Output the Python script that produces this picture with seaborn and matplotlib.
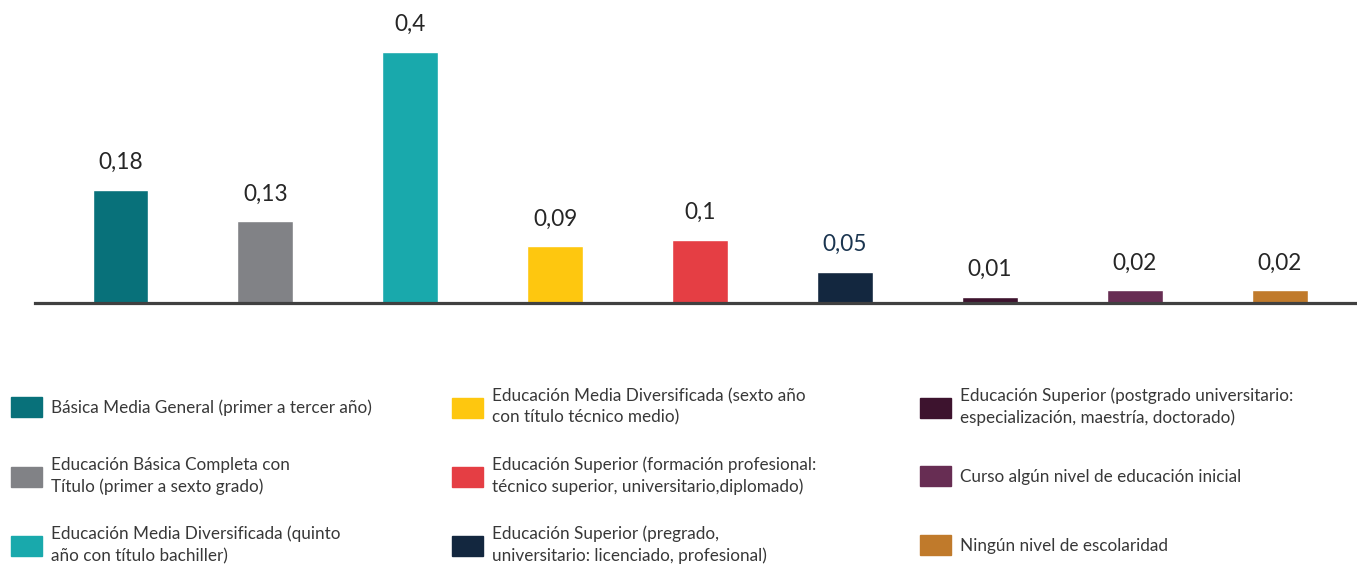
import matplotlib
matplotlib.use("Agg")
import matplotlib.pyplot as plt
import seaborn as sns
import pandas as pd

# Data
categories = [
    "Básica Media General (primer a tercer año)",
    "Educación Básica Completa con\nTítulo (primer a sexto grado)",
    "Educación Media Diversificada (quinto\naño con título bachiller)",
    "Educación Media Diversificada (sexto año\ncon título técnico medio)",
    "Educación Superior (formación profesional:\ntécnico superior, universitario,diplomado)",
    "Educación Superior (pregrado,\nuniversitario: licenciado, profesional)",
    "Educación Superior (postgrado universitario:\nespecialización, maestría, doctorado)",
    "Curso algún nivel de educación inicial",
    "Ningún nivel de escolaridad",
]
values = [0.18, 0.13, 0.4, 0.09, 0.1, 0.05, 0.01, 0.02, 0.02]
value_labels = ["0,18", "0,13", "0,4", "0,09", "0,1", "0,05", "0,01", "0,02", "0,02"]

colors = ["#08717A", "#818286", "#19A9AC", "#FEC70F", "#E53E44",
          "#13273F", "#3D132E", "#672D53", "#C07A2B"]
label_colors = ["#262626"] * 5 + ["#1B3550"] + ["#262626"] * 3

sns.set_theme(style="white")
plt.rcParams["font.family"] = ["Lato", "DejaVu Sans"]

W, H = 1357, 565
fig = plt.figure(figsize=(W / 100, H / 100), dpi=100)
# axes: left at x=35px, baseline at y=303px, top at figure top
ax = fig.add_axes([35 / W, (H - 303) / H, 1 - 35 / W, 303 / H])

df = pd.DataFrame({"cat": categories, "val": values})
sns.barplot(data=df, x="cat", y="val", hue="cat", order=categories,
            hue_order=categories, palette=colors, width=0.386,
            saturation=1, legend=False, ax=ax)

ax.set_xlim(-0.590, 8.533)
ax.set_ylim(0, 303 / 628)
ax.set_xlabel("")
ax.set_ylabel("")
ax.set_xticks([])
ax.set_yticks([])
for s in ["top", "left", "right"]:
    ax.spines[s].set_visible(False)
ax.spines["bottom"].set_color("#404040")
ax.spines["bottom"].set_linewidth(2.3)

for i, (v, lab) in enumerate(zip(values, value_labels)):
    ax.annotate(lab, (i, v), xytext=(0, 19.8), textcoords="offset points",
                ha="center", va="center", fontsize=16.3,
                color=label_colors[i], annotation_clip=False)

# legend: 3x3 grid, one small legend per entry so rows line up
col_x = [11, 452, 920]
row_y = [407, 476, 545]
fs = 12.3
for k, (cat, col) in enumerate(zip(categories, colors)):
    c, r = k // 3, k % 3
    patch = plt.Rectangle((0, 0), 1, 1, color=col)
    leg = fig.legend([patch], [cat], loc="center left",
                     bbox_to_anchor=(col_x[c] / W, 1 - row_y[r] / H),
                     frameon=False, fontsize=fs, borderpad=0, borderaxespad=0,
                     handlelength=31 / (fs * 100 / 72),
                     handleheight=24 / (fs * 100 / 72),
                     handletextpad=9 / (fs * 100 / 72), labelcolor="#383838")
    for t in leg.get_texts():
        t.set_linespacing(1.42)

fig.savefig("out.png", dpi=100)
